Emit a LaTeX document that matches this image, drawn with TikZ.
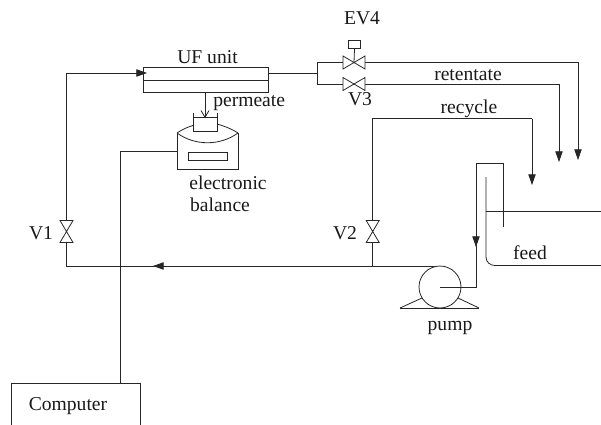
\documentclass[tikz,border=0pt]{standalone}
\usepackage{fontspec}
\setmainfont{Liberation Serif}
\usetikzlibrary{arrows.meta}
\tikzset{
  pipe/.style={line width=0.6pt,black!85},
  flow/.style={pipe,-{Triangle[length=8pt,width=5.5pt]}},
  lbl/.style={font=\fontsize{14.7}{14.7}\selectfont,inner sep=0pt,text=black!90},
  box/.style={draw=black!85,line width=0.6pt,inner sep=0pt,minimum width=0pt},
  hvalve/.pic={\draw[pipe,fill=white] (-11,-6.5)--(11,6.5)--(11,-6.5)--(-11,6.5)--cycle;},
  vvalve/.pic={\draw[pipe,fill=white] (-6.5,-11)--(6.5,11)--(-6.5,11)--(6.5,-11)--cycle;}
}
\begin{document}
\begin{tikzpicture}[x=0.75pt,y=-0.75pt]
\useasboundingbox (0,0) rectangle (601,425);
% coordinates
\coordinate (ufin) at (143,73);
\coordinate (ufout) at (268,73);
\coordinate (cornerL) at (66.5,73);
\coordinate (cornerB) at (66.5,266);
\coordinate (jn) at (317,73);
\coordinate (jt) at (317,62);
\coordinate (jb) at (317,84);
\coordinate (v1) at (66.5,231.5);
\coordinate (v2) at (372.7,231.5);
\coordinate (ev4) at (354,62.5);
\coordinate (v3) at (354,84);
\coordinate (pumpc) at (440,287);
% UF unit
\node[box,minimum width=93.75pt,minimum height=18.75pt,anchor=north west] (uf) at (143,67) {};
\draw[pipe] (uf.west) -- (uf.east);
% main loop
\draw[pipe] (pumpc |- 0,266) coordinate (pt) -- (cornerB) -- (cornerL) -- (ufin);
\draw[flow] (cornerL) -- (147,73);
\draw[flow] (220,266) -- (153,266);
% retentate lines
\draw[pipe] (ufout) -- (jn);
\draw[pipe] (jt) -- (jb);
\draw[flow] (jt) -- (578,62) -- (578,160);
\draw[flow] (jb) -- (559,84) -- (559,162);
% recycle
\draw[pipe] (v2 |- 0,266) -- (372.7,118.5) -- (532,118.5);
\draw[flow] (532,118.5) -- (532,185);
% valves
\pic at (v1) {vvalve};
\pic at (v2) {vvalve};
\pic at (ev4) {hvalve};
\pic at (v3) {hvalve};
\node[box,minimum width=9.4pt,minimum height=6pt,anchor=north] (act) at (354.5,40) {};
\draw[pipe] (act.south) -- (ev4);
% permeate, balance
\draw[pipe] (193,113) -- (193,131) -- (217,131) -- (217,113);
\draw[pipe] (193,117) -- (217,117);
\node[box,minimum width=45.75pt,minimum height=27pt,anchor=north west] (bal) at (177,133) {};
\draw[fill=white,draw=none] (177.3,133.3) rectangle (237.7,134);
\draw[pipe] (177,133) .. controls (183,129) and (188,127) .. (193,125.5);
\draw[pipe] (217,124) .. controls (224,126) and (232,129) .. (238,133);
\draw[pipe] (177,133) .. controls (195,146) and (220,146) .. (238,133);
\node[box,minimum width=29.25pt,minimum height=6pt,anchor=north west] (disp) at (188,152) {};
\draw[pipe,-{Straight Barb[length=5pt,width=6pt]}] (uf.south -| 205,0) -- (205,118);
% computer
\draw[pipe] (11,425) -- (11,383) coordinate (ctl) -- (140,383) -- (140,425);
\coordinate (comptop) at (120,383);
\draw[pipe] (comptop) -- (120,151) -- (bal.west |- 0,151);
% pump
\node[box,circle,minimum size=31.5pt,fill=white] (pump) at (pumpc) {};
\draw[pipe] (400,308) -- (479,308);
\draw[pipe] (400,308) -- (422,298);
\draw[pipe] (479,308) -- (458,298);
\draw[pipe] (pumpc) -- (476,287) -- (476,163) -- (503,163) -- (503,227);
\draw[flow] (476,200) -- (476,247);
% tank
\draw[pipe] (486,177) -- (486,257) .. controls (486,262) and (490,265.5) .. (495,265.5) -- (601,265.5);
\draw[pipe] (486,211) -- (601,211);
% labels
\node[lbl] (luf) at (207.5,57) {UF unit};
\node[lbl,anchor=west] (lperm) at (213,103) {permeate};
\node[lbl] (lel) at (228,183) {electronic};
\node[lbl] (lbal) at (220,204.5) {balance};
\node[lbl] (lv1) at (41,233) {V1};
\node[lbl] (lv2) at (345,233) {V2};
\node[lbl] (lev) at (362,18) {EV4};
\node[lbl] (lv3) at (360,99) {V3};
\node[lbl] (lret) at (468,75) {retentate};
\node[lbl] (lrec) at (469,109) {recycle};
\node[lbl] (lfeed) at (530,252.5) {feed};
\node[lbl] (lpump) at (450,328) {pump};
\node[lbl] (lcomp) at (68,406.5) {Computer};
\end{tikzpicture}
\end{document}
